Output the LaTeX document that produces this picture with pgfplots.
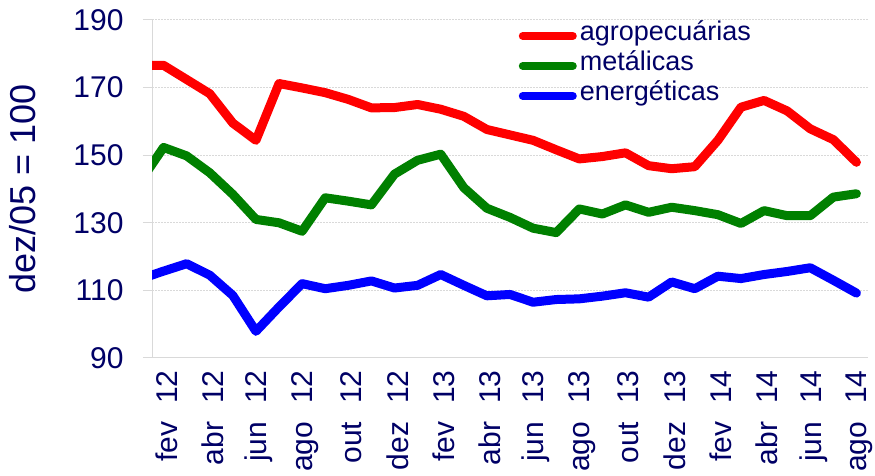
\documentclass[border=0pt]{standalone}
\usepackage{pgfplots}
\pgfplotsset{compat=1.18}
\usepackage{fontspec}
\setmainfont{Liberation Sans}
\definecolor{txt}{RGB}{0,0,102}
\definecolor{grd}{RGB}{217,217,217}
\definecolor{agro}{RGB}{255,0,0}
\definecolor{meta}{RGB}{0,128,0}
\definecolor{ener}{RGB}{0,0,255}
\newcommand{\gap}{\hspace{0.6em}}

\begin{document}
\begin{tikzpicture}
\useasboundingbox (0,0) rectangle (875pt,476pt);
\begin{axis}[
  at={(152pt,118pt)}, anchor=south west,
  scale only axis, width=716pt, height=338pt,
  xmin=-0.5, xmax=30.5, ymin=90, ymax=190,
  ytick={90,110,...,190},
  xtick={0,2,...,30},
  xticklabels={fev\gap12,abr\gap12,jun\gap12,ago\gap12,out\gap12,dez\gap12,fev\gap13,abr\gap13,jun\gap13,ago\gap13,out\gap13,dez\gap13,fev\gap14,abr\gap14,jun\gap14,ago\gap14},
  minor xtick={-0.5,1.5,...,29.5},
  axis x line*=bottom, axis y line*=left,
  axis line style={draw=grd, line width=1pt},
  tick align=outside,
  major tick length=9pt, minor tick length=9pt,
  xtick style={draw=none},
  ytick style={draw=grd, line width=1pt},
  minor tick style={draw=grd, line width=1pt},
  ymajorgrids,
  grid style={draw=grd, line width=1pt, dash pattern=on 2pt off 1pt},
  /pgf/number format/assume math mode=true,
  tick label style={font=\fontsize{30}{36}\selectfont, text=txt},
  xticklabel style={rotate=90, anchor=east, xshift=0pt, yshift=-3pt},
  yticklabel style={anchor=east, xshift=-16pt},
  ylabel={dez/05 = 100},
  ylabel style={at={(axis description cs:-0.18,0.5)}, anchor=center, font=\fontsize{36}{42}\selectfont, text=txt},
  legend style={at={(axis description cs:0.512,0.998)}, anchor=north west, draw=none, fill=none,
    font=\fontsize{27}{30}\selectfont, text=txt, row sep=0pt, column sep=0pt, inner sep=0pt,
    nodes={inner xsep=3pt, inner ysep=0pt, text height=20pt, text depth=10pt}},
  legend cell align=left,
  legend image code/.code={\draw[#1, line width=8pt, line cap=round] (4pt,0pt) -- (54pt,0pt);},
  every axis plot/.append style={line width=9pt, line join=round, line cap=round},
]
\addplot[agro] coordinates {
(-1,176.6) (0,176.6) (1,172.4) (2,168.2) (3,159.5) (4,154.4) (5,171.2) (6,169.9) (7,168.5) (8,166.5)
(9,164.0) (10,164.1) (11,165.0) (12,163.6) (13,161.5) (14,157.6) (15,156.0) (16,154.4) (17,151.6) (18,148.9)
(19,149.6) (20,150.7) (21,146.9) (22,146.0) (23,146.6) (24,154.4) (25,164.2) (26,166.2) (27,163.1) (28,157.8)
(29,154.6) (30,147.9)};
\addlegendentry{agropecuárias}
\addplot[meta] coordinates {
(-1,142.3) (0,152.3) (1,149.8) (2,144.8) (3,138.4) (4,131.0) (5,130.0) (6,127.5) (7,137.4) (8,136.4)
(9,135.3) (10,144.4) (11,148.5) (12,150.3) (13,140.4) (14,134.3) (15,131.6) (16,128.4) (17,127.1) (18,134.1)
(19,132.6) (20,135.3) (21,133.1) (22,134.6) (23,133.6) (24,132.4) (25,129.8) (26,133.6) (27,132.1) (28,132.1)
(29,137.6) (30,138.6)};
\addlegendentry{metálicas}
\addplot[ener] coordinates {
(-1,113.4) (0,115.7) (1,117.9) (2,114.5) (3,108.5) (4,97.9) (5,105.1) (6,112.0) (7,110.5) (8,111.5)
(9,112.8) (10,110.7) (11,111.5) (12,114.7) (13,111.5) (14,108.4) (15,108.8) (16,106.5) (17,107.3) (18,107.5)
(19,108.3) (20,109.3) (21,108.0) (22,112.5) (23,110.5) (24,114.2) (25,113.5) (26,114.7) (27,115.6) (28,116.7)
(29,113.0) (30,109.2)};
\addlegendentry{energéticas}
\end{axis}
\end{tikzpicture}
\end{document}
